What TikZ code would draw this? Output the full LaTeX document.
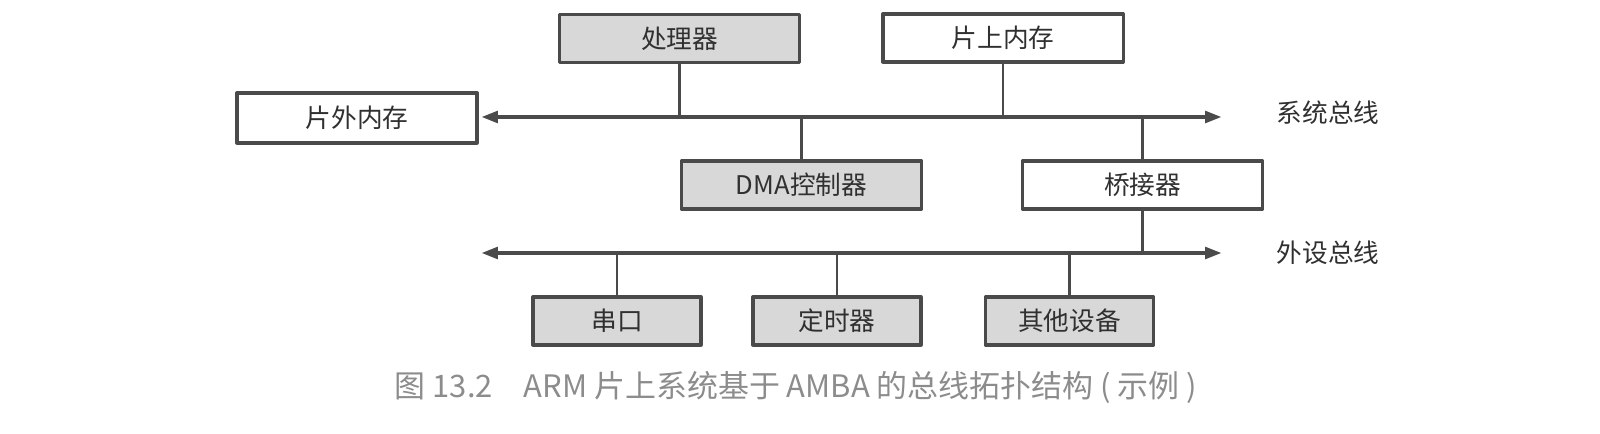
\documentclass[tikz,border=0pt]{standalone}
\usepackage{fontspec}
\setmainfont{Noto Sans CJK SC}
\usepackage{tikz}
\usetikzlibrary{arrows.meta}

\definecolor{linegray}{HTML}{4A4A4A}
\definecolor{fillgray}{HTML}{D8D8D8}
\definecolor{textgray}{HTML}{303030}
\definecolor{capgray}{HTML}{8C8C8C}

\tikzset{
  unitbox/.style={draw=linegray,line width=0.9pt,minimum height=0.48cm,inner sep=0pt,
    text=textgray,font=\fontsize{7.3}{8}\selectfont},
  bigbox/.style={unitbox,minimum width=2.4cm},
  smallbox/.style={unitbox,minimum width=1.68cm},
  shaded/.style={fill=fillgray},
  bus/.style={draw=linegray,line width=1.2pt,{Triangle[length=4.8pt,width=3.2pt]}-{Triangle[length=4.8pt,width=3.2pt]}},
  tap/.style={draw=linegray,line width=0.8pt},
  buslabel/.style={text=textgray,font=\fontsize{7.3}{8}\selectfont}
}

\begin{document}
\begin{tikzpicture}[line cap=round,line join=round,x=0.01cm,y=-0.01cm]
        \useasboundingbox (0,0) rectangle (1600,434);
        % buses
        \coordinate (sysL) at (481,117);
        \coordinate (sysR) at (1222,117);
        \coordinate (perL) at (481,253);
        \coordinate (perR) at (1222,253);
        % boxes
        \node[bigbox,shaded] (cpu) at (679.5,38.5) {处理器};
        \node[bigbox] (onmem) at (1003,38) {片上内存};
        \node[bigbox,minimum height=0.5cm] (offmem) at (357,118) {片外内存};
        \node[bigbox,shaded] (dma) at (801.5,185) {DMA控制器};
        \node[bigbox] (bridge) at (1142.5,185) {桥接器};
        \node[smallbox,shaded] (uart) at (617,321) {串口};
        \node[smallbox,shaded] (timer) at (837,321) {定时器};
        \node[smallbox,shaded] (other) at (1069.5,321) {其他设备};
        \node[buslabel] (syslabel) at (1328,113) {系统总线};
        \node[buslabel] (perlabel) at (1328,253) {外设总线};
        \node[text=capgray,font=\fontsize{8.8}{10}\selectfont] (caption) at (796,387) {图 13.2\quad ARM 片上系统基于 AMBA 的总线拓扑结构 ( 示例 )};
        % connectors
        \draw[tap] (cpu.south) -- (cpu.south |- sysL);
        \draw[tap] (onmem.south) -- (onmem.south |- sysL);
        \draw[tap] (dma.north) -- (dma.north |- sysL);
        \draw[tap] (bridge.north) -- (bridge.north |- sysL);
        \draw[tap] (bridge.south) -- (bridge.south |- perL);
        \draw[tap] (uart.north) -- (uart.north |- perL);
        \draw[tap] (timer.north) -- (timer.north |- perL);
        \draw[tap] (other.north) -- (other.north |- perL);
        \draw[bus] (sysL) -- (sysR);
        \draw[bus] (perL) -- (perR);
\end{tikzpicture}
\end{document}
